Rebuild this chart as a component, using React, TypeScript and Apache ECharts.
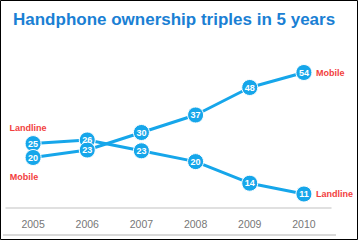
import React, { useEffect, useRef } from "react";
import * as echarts from "echarts";

const years = ["2005", "2006", "2007", "2008", "2009", "2010"];
const mobile = [20, 23, 30, 37, 48, 54];
const landline = [25, 26, 23, 20, 14, 11];
const titleText = "Handphone ownership triples in 5 years";

const LINE = "#16a6ea";
const RED = "#f2403e";
const FONT = "Liberation Sans, Arial, sans-serif";

export default function App() {
  const ref = useRef<HTMLDivElement>(null);
  useEffect(() => {
    document.body.style.margin = "0";
    const chart = echarts.init(ref.current!, null, { renderer: "svg" });
    const mkSeries = (name: string, data: number[], axis: number, startOffset: number[]) => ({
      name,
      type: "line",
      yAxisIndex: axis,
      data,
      symbol: "circle",
      symbolSize: 16,
      lineStyle: { color: LINE, width: 3 },
      itemStyle: { color: LINE, borderColor: "#ffffff", borderWidth: 1 },
      label: {
        show: true,
        position: "inside",
        color: "#ffffff",
        fontWeight: "bold",
        fontSize: 9,
        lineHeight: 9,
        fontFamily: FONT,
      },
      endLabel: {
        show: true,
        formatter: "{a}",
        color: RED,
        fontWeight: "bold",
        fontSize: 9,
        distance: 12,
        fontFamily: FONT,
      },
      markPoint: {
        symbol: "circle",
        symbolSize: 0,
        data: [
          {
            coord: [years[0], data[0]],
            label: {
              show: true,
              formatter: name,
              color: RED,
              fontWeight: "bold",
              fontSize: 9,
              offset: startOffset,
              fontFamily: FONT,
            },
          },
        ],
      },
    });
    chart.setOption({
      animation: false,
      backgroundColor: "#ffffff",
      title: {
        text: titleText,
        left: 8,
        top: 6,
        textStyle: {
          color: "#1a80d4",
          fontSize: 17,
          fontWeight: "bold",
          fontFamily: FONT,
        },
      },
      grid: { left: 6, right: 27, top: 40, bottom: 30 },
      xAxis: {
        type: "category",
        data: years,
        boundaryGap: true,
        axisLine: { lineStyle: { color: "#d6d6d6", width: 1.5 } },
        axisTick: { show: false },
        axisLabel: {
          color: "#777777",
          fontSize: 10.5,
          margin: 8,
          fontFamily: FONT,
        },
      },
      yAxis: [
        { type: "value", min: -1, max: 67, show: false, splitLine: { show: false } },
        { type: "value", min: 6.56, max: 53.78, show: false, splitLine: { show: false } },
      ],
      series: [
        mkSeries("Landline", landline, 1, [-5, -16]),
        mkSeries("Mobile", mobile, 0, [-9, 19]),
      ],
      graphic: [
        {
          type: "line",
          shape: { x1: 3, y1: 235, x2: 336, y2: 235 },
          style: { stroke: "#cccccc", lineWidth: 1.5 },
        },
        {
          type: "rect",
          shape: { x: 0.5, y: 0.5, width: 357, height: 239 },
          style: { fill: "none", stroke: "#000000", lineWidth: 1 },
          silent: true,
        },
      ],
    });
    return () => chart.dispose();
  }, []);
  return <div ref={ref} style={{ width: 358, height: 240 }} />;
}
